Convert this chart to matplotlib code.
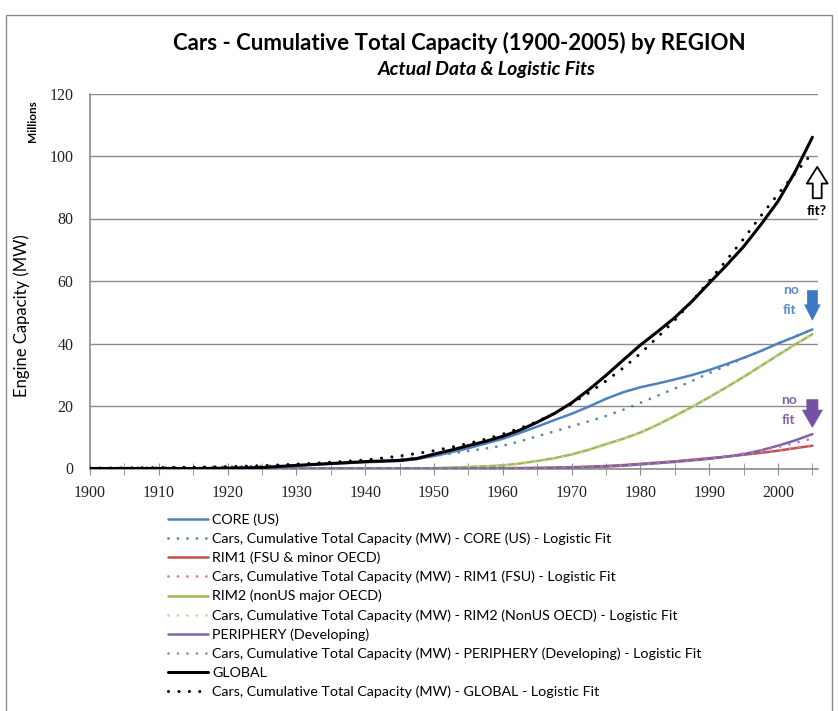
"""Cars - cumulative total capacity by region, actual data vs logistic fits."""
import matplotlib
matplotlib.use("Agg")
import matplotlib.pyplot as plt
from matplotlib.patches import Rectangle

plt.rcParams["font.family"] = ["Lato", "DejaVu Sans"]

# ── data (millions MW): 5-yr steps to 1945, then 2.5-yr ──
years = [1900, 1905, 1910, 1915, 1920, 1925, 1930, 1935, 1940,
         1945, 1947.5, 1950, 1952.5, 1955, 1957.5, 1960, 1962.5, 1965, 1967.5,
         1970, 1972.5, 1975, 1977.5, 1980, 1982.5, 1985, 1987.5, 1990, 1992.5,
         1995, 1997.5, 2000, 2002.5, 2005]
core = [0, 0, 0, 0, 0.1, 0.3, 0.9, 1.5, 2.0,
        2.4, 3.0, 4.0, 5.2, 6.5, 8.0, 9.5, 11.4, 13.4, 15.5,
        17.5, 19.8, 22.3, 24.4, 26.0, 27.2, 28.5, 29.9, 31.5, 33.4,
        35.4, 37.6, 40.0, 42.2, 44.5]
core_fit = [0.1, 0.2, 0.3, 0.4, 0.6, 0.8, 1.1, 1.6, 2.2,
            3.0, 3.5, 4.0, 4.8, 5.6, 6.4, 7.3, 8.7, 10.3, 11.9,
            13.5, 15.1, 16.8, 18.8, 21.0, 23.3, 25.6, 28.0, 30.5, 32.9,
            35.3, 37.6, 40.0, 42.3, 44.5]
rim1 = [0, 0, 0, 0, 0, 0, 0, 0, 0,
        0, 0, 0, 0, 0, 0.05, 0.1, 0.15, 0.2, 0.3,
        0.4, 0.6, 0.8, 1.1, 1.5, 1.9, 2.3, 2.8, 3.3, 3.8,
        4.4, 5.0, 5.7, 6.5, 7.3]
rim1_fit = [0, 0, 0, 0, 0, 0, 0, 0, 0,
            0, 0.03, 0.05, 0.07, 0.1, 0.12, 0.15, 0.2, 0.25, 0.35,
            0.45, 0.6, 0.8, 1.1, 1.4, 1.8, 2.2, 2.7, 3.2, 3.8,
            4.4, 5.1, 5.8, 6.6, 7.4]
rim2 = [0, 0, 0, 0, 0, 0, 0, 0, 0,
        0, 0.05, 0.1, 0.3, 0.5, 0.7, 1.0, 1.6, 2.4, 3.3,
        4.5, 6.0, 7.8, 9.5, 11.5, 14.0, 16.8, 19.7, 22.8, 26.0,
        29.3, 32.8, 36.3, 39.7, 43.0]
rim2_fit = [0, 0, 0, 0, 0, 0, 0, 0, 0,
            0, 0.05, 0.1, 0.2, 0.4, 0.65, 1.0, 1.5, 2.2, 3.1,
            4.3, 5.8, 7.6, 9.5, 11.6, 14.1, 16.8, 19.7, 22.8, 26.0,
            29.4, 32.8, 36.2, 39.7, 43.2]
periphery = [0, 0, 0, 0, 0, 0, 0, 0, 0,
             0, 0, 0, 0, 0, 0, 0.05, 0.07, 0.1, 0.2,
             0.3, 0.45, 0.6, 0.9, 1.3, 1.7, 2.1, 2.6, 3.1, 3.8,
             4.6, 5.8, 7.3, 9.0, 11.0]
periphery_fit = [0, 0, 0, 0, 0, 0, 0, 0, 0,
                 0, 0, 0, 0, 0.05, 0.07, 0.1, 0.15, 0.2, 0.3,
                 0.4, 0.55, 0.7, 1.0, 1.3, 1.7, 2.1, 2.6, 3.2, 3.9,
                 4.8, 5.8, 6.9, 8.2, 9.6]
glob = [0, 0, 0, 0, 0.1, 0.3, 1.0, 1.6, 2.2,
        2.6, 3.2, 4.6, 5.9, 7.3, 8.7, 10.3, 12.3, 14.8, 17.6,
        21.0, 25.2, 29.8, 34.7, 39.5, 43.8, 48.3, 53.5, 59.3, 65.0,
        71.0, 78.0, 85.5, 95.0, 106.0]
glob_fit = [0.1, 0.2, 0.3, 0.4, 0.6, 0.9, 1.4, 2.0, 2.7,
            4.0, 4.8, 5.7, 6.8, 8.0, 9.4, 11.0, 12.9, 15.0, 17.7,
            20.7, 24.2, 28.0, 32.2, 36.8, 42.0, 47.5, 53.5, 60.0, 66.6,
            73.5, 80.8, 87.8, 94.5, 101.0]

labels = ["CORE (US)",
          "Cars, Cumulative Total Capacity (MW) - CORE (US) - Logistic Fit",
          "RIM1 (FSU & minor OECD)",
          "Cars, Cumulative Total Capacity (MW) - RIM1 (FSU) - Logistic Fit",
          "RIM2 (nonUS major OECD)",
          "Cars, Cumulative Total Capacity (MW) - RIM2 (NonUS OECD) - Logistic Fit",
          "PERIPHERY (Developing)",
          "Cars, Cumulative Total Capacity (MW) - PERIPHERY (Developing) - Logistic Fit",
          "GLOBAL",
          "Cars, Cumulative Total Capacity (MW) - GLOBAL - Logistic Fit"]

BLUE, RED, GREEN, PURPLE, INK = "#4F81BD", "#C0504D", "#9BBB59", "#8064A2", "#000000"
GRID = "#8C8C8C"
DOT = (0, (0.01, 3.4))

W, H = 838, 711
fig = plt.figure(figsize=(W / 100, H / 100), dpi=100)
fig.patch.set_facecolor("white")
fig.patches.append(Rectangle((6 / W, -0.1), 826 / W, 1.1 - 15 / H, transform=fig.transFigure,
                             fill=False, ec="#8C8C8C", lw=1))

ax = fig.add_axes([90 / W, 1 - 468.5 / H, 728 / W, 375 / H])

series = [(core, BLUE, 1.8, "-"), (core_fit, BLUE, 2.0, DOT),
          (rim1, RED, 1.8, "-"), (rim1_fit, "#E07A8A", 2.0, DOT),
          (rim2, GREEN, 1.8, "-"), (rim2_fit, "#C4D79B", 2.0, DOT),
          (periphery, PURPLE, 1.8, "-"), (periphery_fit, "#9B86B8", 2.0, DOT),
          (glob, INK, 2.2, "-"), (glob_fit, INK, 2.2, DOT)]
handles = []
for (vals, col, lw, ls), lab in zip(series, labels):
    ln, = ax.plot(years, vals, color=col, lw=lw, ls=ls, dash_capstyle="round",
                  solid_capstyle="round", solid_joinstyle="round", label=lab, zorder=3)
    handles.append(ln)

ax.set_xlim(1900, 1900 + 728 / 6.88)
ax.set_ylim(0, 120)
ax.set_yticks(range(0, 121, 20))
ax.set_xticks(range(1900, 2001, 10))
ax.set_xticks(range(1905, 2006, 10), minor=True)
ax.grid(axis="y", color=GRID, lw=1)
ax.set_axisbelow(True)
for s in ["top", "right"]:
    ax.spines[s].set_visible(False)
for s in ["left", "bottom"]:
    ax.spines[s].set_color(GRID)
    ax.spines[s].set_linewidth(1.2)
ax.tick_params(axis="x", which="both", direction="inout", length=8, color=GRID, pad=8)
ax.tick_params(axis="y", length=0, pad=12)
for t in ax.get_xticklabels() + ax.get_yticklabels():
    t.set_fontfamily("Liberation Serif")
    t.set_fontsize(11.5)
    t.set_color("#222222")

# titles and axis labels
fig.text(459 / W, 1 - 43 / H, "Cars - Cumulative Total Capacity (1900-2005) by REGION",
         ha="center", va="center", fontsize=16, fontweight="bold")
fig.text(487 / W, 1 - 70 / H, "Actual Data & Logistic Fits", ha="center", va="center",
         fontsize=14, style="italic", fontweight="bold")
fig.text(22 / W, 1 - 316 / H, "Engine Capacity (MW)", rotation=90, ha="center", va="center",
         fontsize=12)
fig.text(32 / W, 1 - 121 / H, "Millions", rotation=90, ha="center", va="center",
         fontsize=8.5, fontweight="bold")

# annotations: fit? / no fit arrows
ax.annotate("", xy=(2005.7, 97.4), xytext=(2005.7, 85.6), annotation_clip=False,
            arrowprops=dict(arrowstyle="simple,head_width=0.75,head_length=0.6,tail_width=0.32",
                            mutation_scale=20, fc="white", ec="black", lw=1.3))
ax.text(2005.6, 82.4, "fit?", ha="center", va="center", fontsize=10, fontweight="bold",
        clip_on=False)
ax.annotate("", xy=(2005.0, 46.6), xytext=(2005.0, 57.8), annotation_clip=False,
            arrowprops=dict(arrowstyle="simple,head_width=0.56,head_length=0.55,tail_width=0.36",
                            mutation_scale=20, fc="#3C78C4", ec="#3C78C4", lw=0.5))
ax.text(2001.9, 57.1, "no", ha="center", va="center", fontsize=10, fontweight="bold",
        color="#5B8CC8")
ax.text(2001.7, 50.7, "fit", ha="center", va="center", fontsize=10, fontweight="bold",
        color="#5B8CC8")
ax.annotate("", xy=(2005.0, 12.3), xytext=(2005.0, 22.9), annotation_clip=False,
            arrowprops=dict(arrowstyle="simple,head_width=0.72,head_length=0.62,tail_width=0.4",
                            mutation_scale=20, fc="#7650A6", ec="#7650A6", lw=0.5))
ax.text(2001.6, 21.9, "no", ha="center", va="center", fontsize=10, fontweight="bold",
        color="#8064A2")
ax.text(2001.5, 15.5, "fit", ha="center", va="center", fontsize=10, fontweight="bold",
        color="#8064A2")

fig.legend(handles=handles, loc="upper left", bbox_to_anchor=(168 / W, 1 - 513 / H),
           frameon=False, fontsize=10.25, borderpad=0, borderaxespad=0, labelspacing=0.47,
           handlelength=2.8, handletextpad=0.3)

fig.savefig("out.png", dpi=100, facecolor="white")
print("saved out.png")
